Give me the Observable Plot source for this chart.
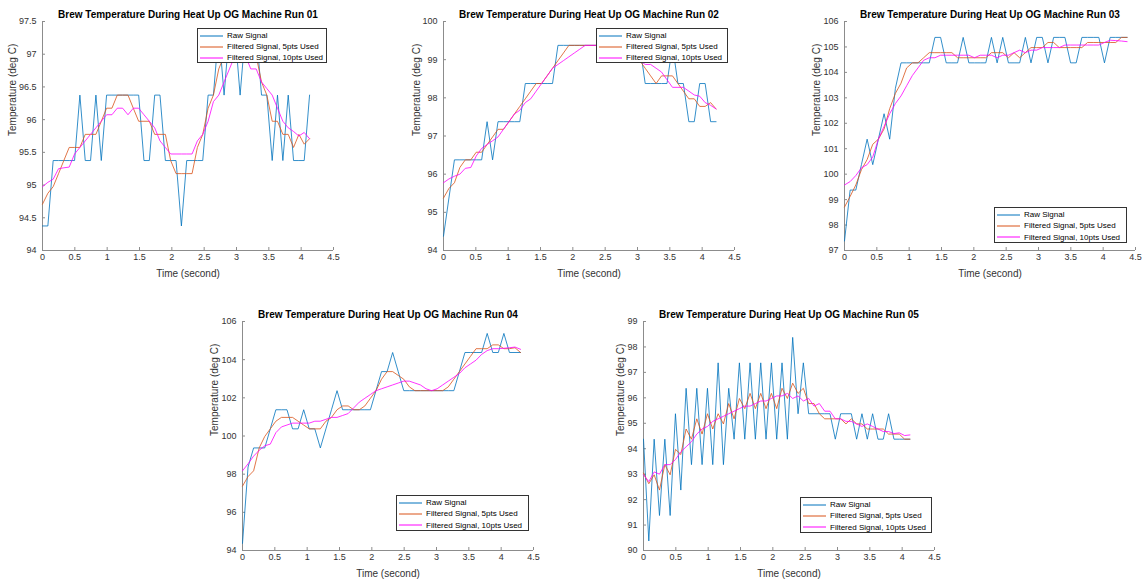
<!DOCTYPE html>
<html><head><meta charset="utf-8">
<script src="https://cdn.jsdelivr.net/npm/d3@7"></script>
<script src="https://cdn.jsdelivr.net/npm/@observablehq/plot@0.6"></script>
<style>
html,body{margin:0;padding:0;background:#fff;overflow:hidden;}
#root{position:relative;width:1146px;height:579px;font-family:"Liberation Sans",Arial,Helvetica,sans-serif;}
.panel{position:absolute;}
.legend{position:absolute;background:#fff;border:1px solid #333;box-sizing:border-box;font-size:8px;color:#000;}
.legend .row{position:absolute;left:0;height:11px;display:flex;align-items:center;white-space:nowrap;}
.legend .row svg{margin-left:2px;margin-right:4px;}
</style></head><body><div id="root"></div>
<script>
const titles = ["Brew Temperature During Heat Up OG Machine Run 01","Brew Temperature During Heat Up OG Machine Run 02","Brew Temperature During Heat Up OG Machine Run 03","Brew Temperature During Heat Up OG Machine Run 04","Brew Temperature During Heat Up OG Machine Run 05"];
const seriesNames = ["Raw Signal","Filtered Signal, 5pts Used","Filtered Signal, 10pts Used"];
const xLabel = "Time (second)";
const yLabel = "Temperature (deg C)";
const xTicks = [0,0.5,1,1.5,2,2.5,3,3.5,4,4.5];
const yTicks01 = [94,94.5,95,95.5,96,96.5,97,97.5];
const yTicks02 = [94,95,96,97,98,99,100];
const yTicks03 = [97,98,99,100,101,102,103,104,105,106];
const yTicks04 = [94,96,98,100,102,104,106];
const yTicks05 = [90,91,92,93,94,95,96,97,98,99];

const time01 = [0,0.083,0.165,0.248,0.330,0.413,0.496,0.578,0.661,0.743,0.826,0.909,0.991,1.074,1.156,1.239,1.322,1.404,1.487,1.569,1.652,1.735,1.817,1.900,1.982,2.065,2.148,2.230,2.313,2.395,2.478,2.561,2.643,2.726,2.808,2.891,2.974,3.056,3.139,3.221,3.304,3.387,3.469,3.552,3.634,3.717,3.800,3.882,3.965,4.047,4.130];
const time02 = [0,0.084,0.169,0.253,0.337,0.422,0.506,0.590,0.674,0.759,0.843,0.927,1.012,1.096,1.180,1.265,1.349,1.433,1.517,1.602,1.686,1.770,1.855,1.939,2.023,2.108,2.192,2.276,2.360,2.445,2.529,2.613,2.698,2.782,2.866,2.951,3.035,3.119,3.203,3.288,3.372,3.456,3.541,3.625,3.709,3.794,3.878,3.962,4.046,4.131,4.215];
const time03 = [0,0.087,0.175,0.262,0.350,0.437,0.524,0.612,0.699,0.787,0.874,0.961,1.049,1.136,1.224,1.311,1.398,1.486,1.573,1.661,1.748,1.835,1.923,2.010,2.098,2.185,2.272,2.360,2.447,2.535,2.622,2.709,2.797,2.884,2.972,3.059,3.146,3.234,3.321,3.409,3.496,3.583,3.671,3.758,3.846,3.933,4.020,4.108,4.195,4.283,4.370];
const time04 = [0,0.086,0.172,0.258,0.344,0.430,0.516,0.602,0.688,0.774,0.860,0.946,1.032,1.118,1.204,1.290,1.376,1.462,1.548,1.634,1.720,1.806,1.892,1.978,2.064,2.150,2.236,2.322,2.408,2.494,2.580,2.666,2.752,2.838,2.924,3.010,3.096,3.182,3.268,3.354,3.440,3.526,3.612,3.698,3.784,3.870,3.956,4.042,4.128,4.214,4.300];
const time05 = [0,0.082,0.165,0.247,0.330,0.412,0.494,0.577,0.659,0.742,0.824,0.906,0.989,1.071,1.154,1.236,1.318,1.401,1.483,1.566,1.648,1.730,1.813,1.895,1.978,2.060,2.142,2.225,2.307,2.390,2.472,2.554,2.637,2.719,2.802,2.884,2.966,3.049,3.131,3.214,3.296,3.378,3.461,3.543,3.626,3.708,3.790,3.873,3.955,4.038,4.120];

const raw01 = [94.375,94.375,95.375,95.375,95.375,95.375,95.375,96.375,95.375,95.375,96.375,95.375,96.375,96.375,96.375,96.375,96.375,96.375,96.375,95.375,95.375,96.375,96.375,95.375,95.375,95.375,94.375,95.375,95.375,95.375,95.375,96.375,96.375,97.375,96.375,97.375,97.375,96.375,97.375,97.375,97.375,96.375,96.375,95.375,96.375,95.375,96.375,95.375,95.375,95.375,96.375];
const f5_01 = [94.708,94.875,94.975,95.175,95.375,95.575,95.575,95.575,95.775,95.775,95.775,95.975,96.175,96.175,96.375,96.375,96.375,96.175,95.975,95.975,95.975,95.775,95.775,95.775,95.375,95.175,95.175,95.175,95.175,95.575,95.775,96.175,96.375,96.775,96.975,96.975,96.975,97.175,97.175,96.975,96.975,96.575,96.375,95.975,95.975,95.775,95.775,95.575,95.775,95.625,95.708];
const f10_01 = [94.975,95.042,95.089,95.25,95.264,95.275,95.475,95.575,95.675,95.775,95.875,95.975,96.075,96.075,96.175,96.175,96.075,96.175,96.175,96.075,95.975,95.875,95.675,95.575,95.475,95.475,95.475,95.475,95.475,95.675,95.775,95.975,96.275,96.375,96.575,96.775,96.975,96.975,96.975,96.775,96.775,96.575,96.475,96.375,96.175,95.975,95.875,95.819,95.75,95.804,95.708];

const raw02 = [94.375,95.375,96.375,96.375,96.375,96.375,96.375,96.375,97.375,96.375,97.375,97.375,97.375,97.375,97.375,98.375,98.375,98.375,98.375,98.375,98.375,99.375,99.375,99.375,99.375,99.375,99.375,99.375,99.375,99.375,99.375,99.375,99.375,99.375,99.375,99.375,99.375,98.375,98.375,98.375,98.375,98.375,99.375,98.375,98.375,97.375,97.375,98.375,98.375,97.375,97.375];
const f5_02 = [95.375,95.625,95.775,96.175,96.375,96.375,96.575,96.575,96.775,96.975,97.175,97.175,97.375,97.575,97.775,97.975,98.175,98.375,98.375,98.575,98.775,98.975,99.175,99.375,99.375,99.375,99.375,99.375,99.375,99.375,99.375,99.375,99.375,99.375,99.375,99.175,98.975,98.775,98.575,98.375,98.575,98.575,98.575,98.375,98.175,97.975,97.975,97.775,97.775,97.875,97.708];
const f10_02 = [95.775,95.875,95.946,96.0,96.153,96.175,96.475,96.675,96.775,96.875,96.975,97.175,97.375,97.575,97.675,97.875,97.975,98.175,98.375,98.575,98.775,98.875,98.975,99.075,99.175,99.275,99.375,99.375,99.375,99.375,99.375,99.375,99.375,99.275,99.175,99.075,98.975,98.875,98.875,98.775,98.675,98.475,98.275,98.275,98.275,98.175,98.075,98.042,97.875,97.804,97.708];

const raw03 = [97.375,99.375,99.375,100.375,101.375,100.375,101.375,102.375,101.375,103.375,104.375,104.375,104.375,104.375,104.375,104.375,105.375,105.375,104.375,104.375,104.375,105.375,104.375,104.375,104.375,104.375,105.375,104.375,105.375,104.375,104.375,104.375,105.375,104.375,105.375,105.375,104.375,105.375,105.375,105.375,104.375,104.375,105.375,105.375,105.375,105.375,104.375,105.375,105.375,105.375,105.375];
const f5_03 = [98.708,99.125,99.575,100.175,100.575,101.175,101.375,101.775,102.575,103.175,103.575,104.175,104.375,104.375,104.575,104.775,104.775,104.775,104.775,104.775,104.575,104.575,104.575,104.575,104.575,104.575,104.775,104.775,104.775,104.575,104.775,104.575,104.775,104.975,104.975,104.975,105.175,105.175,104.975,104.975,104.975,104.975,104.975,105.175,105.175,105.175,105.175,105.175,105.175,105.375,105.375];
const f10_03 = [99.575,99.708,99.946,100.25,100.375,100.675,101.375,101.875,102.375,102.775,103.075,103.475,103.875,104.175,104.475,104.575,104.575,104.675,104.675,104.675,104.675,104.675,104.675,104.575,104.675,104.675,104.675,104.575,104.675,104.675,104.775,104.875,104.775,104.875,104.875,104.975,104.975,104.975,104.975,105.075,105.075,105.075,105.075,105.075,105.075,105.075,105.175,105.264,105.25,105.232,105.208];

const raw04 = [94.375,98.375,99.375,99.375,99.375,100.375,101.375,101.375,101.375,100.375,100.375,101.375,100.375,100.375,99.375,100.375,101.375,102.375,101.375,101.375,101.375,101.375,101.375,101.375,102.375,103.375,103.375,104.375,103.375,102.375,102.375,102.375,102.375,102.375,102.375,102.375,102.375,102.375,102.375,103.375,104.375,104.375,104.375,104.375,105.375,104.375,104.375,105.375,104.375,104.375,104.375];
const f5_04 = [97.375,97.875,98.175,99.375,99.975,100.375,100.775,100.975,100.975,100.975,100.775,100.575,100.375,100.375,100.375,100.775,100.975,101.375,101.575,101.575,101.375,101.375,101.575,101.975,102.375,102.975,103.375,103.375,103.175,102.975,102.575,102.375,102.375,102.375,102.375,102.375,102.375,102.575,102.975,103.375,103.775,104.175,104.575,104.575,104.575,104.775,104.775,104.575,104.575,104.625,104.375];
const f10_04 = [98.175,98.542,98.946,99.25,99.486,99.575,100.175,100.475,100.575,100.675,100.675,100.675,100.675,100.775,100.775,100.875,100.975,100.975,101.075,101.175,101.475,101.775,101.975,102.175,102.375,102.475,102.575,102.675,102.775,102.875,102.875,102.775,102.675,102.475,102.375,102.475,102.675,102.875,103.075,103.275,103.575,103.775,103.975,104.275,104.475,104.575,104.575,104.597,104.625,104.661,104.542];

const raw05 = [94.375,90.375,94.375,91.375,94.375,91.375,95.375,92.375,96.375,93.375,96.375,93.375,96.375,93.375,97.375,93.375,96.375,94.375,97.375,94.375,97.375,94.375,97.375,94.375,97.375,94.375,97.375,94.375,98.375,95.375,97.375,95.375,95.375,95.375,95.375,95.375,94.375,95.375,95.375,95.375,94.375,95.375,94.375,95.375,94.375,94.375,95.375,94.375,94.375,94.375,94.375];
const f5_05 = [93.042,92.625,92.975,92.375,93.375,92.975,93.975,93.775,94.775,94.375,95.175,94.575,95.375,94.775,95.375,94.975,95.775,95.175,95.975,95.575,96.175,95.575,96.175,95.575,96.175,95.575,96.375,95.975,96.575,96.175,96.375,95.775,95.775,95.375,95.175,95.175,95.175,95.175,94.975,95.175,94.975,94.975,94.775,94.775,94.775,94.775,94.575,94.575,94.575,94.375,94.375];
const f10_05 = [92.975,92.708,93.089,93.0,93.375,93.375,93.575,93.875,94.075,94.275,94.575,94.775,94.875,95.075,95.175,95.275,95.375,95.475,95.575,95.675,95.675,95.775,95.875,95.875,95.975,96.075,96.075,96.175,95.975,96.075,95.875,95.975,95.675,95.775,95.475,95.475,95.175,95.175,95.075,95.075,94.975,94.875,94.975,94.875,94.775,94.675,94.675,94.597,94.625,94.518,94.542];

const panels = [
  {t: time01, raw: raw01, f5: f5_01, f10: f10_01, yd:[94,97.5], yt: yTicks01, left:42, top:21, lx:29.5, leg:{x:197,y:28,w:130,h:35}},
  {t: time02, raw: raw02, f5: f5_02, f10: f10_02, yd:[94,100], yt: yTicks02, left:443, top:21, lx:27, leg:{x:596,y:28,w:132,h:35}},
  {t: time03, raw: raw03, f5: f5_03, f10: f10_03, yd:[97,106], yt: yTicks03, left:844, top:21, lx:27.5, leg:{x:994,y:207,w:133,h:36}},
  {t: time04, raw: raw04, f5: f5_04, f10: f10_04, yd:[94,106], yt: yTicks04, left:242, top:321, lx:27.5, leg:{x:396,y:495,w:133,h:36}},
  {t: time05, raw: raw05, f5: f5_05, f10: f10_05, yd:[90,99], yt: yTicks05, left:643, top:321, lx:22.5, leg:{x:800,y:497,w:132,h:36}}
];
const colors = ["#0072BD","#D95319","#FF00FF"];
const root = document.getElementById("root");
const ML=42, MT=21, MR=10, MB=30, AW=291, AH=229;

panels.forEach((p, k) => {
  const rows = [];
  [p.raw, p.f5, p.f10].forEach((arr, s) => arr.forEach((v, i) => rows.push({t: p.t[i], v, s: seriesNames[s]})));
  const chart = Plot.plot({
    width: ML+AW+MR, height: MT+AH+MB,
    marginLeft: ML, marginTop: MT, marginRight: MR, marginBottom: MB,
    style: {fontFamily: '"Liberation Sans",Arial,sans-serif', fontSize: "9px", color: "#333", background: "transparent", overflow: "visible"},
    x: {domain: [0, 4.5]},
    y: {domain: p.yd},
    color: {domain: seriesNames, range: colors},
    marks: [
      Plot.ruleX([0], {stroke: "#8c8c8c"}),
      Plot.ruleY([p.yd[0]], {stroke: "#8c8c8c"}),
      Plot.axisX(xTicks, {tickSize: -3, tickPadding: 6, tickFormat: d => String(d), label: null, stroke: "#8c8c8c"}),
      Plot.axisY(p.yt, {tickSize: -3, tickPadding: 9, tickFormat: d => String(d), label: null, stroke: "#8c8c8c"}),
      Plot.line(rows, {x: "t", y: "v", z: "s", stroke: "s", strokeWidth: 0.8}),
      Plot.text([titles[k]], {frameAnchor: "top", dy: -7, fontWeight: "bold", fontSize: 10, fill: "#000", lineAnchor: "middle"}),
      Plot.text([yLabel], {frameAnchor: "left", dx: -p.lx, rotate: -90, fontSize: 10, fill: "#333", lineAnchor: "middle"}),
      Plot.text([xLabel], {frameAnchor: "bottom", dy: 23, fontSize: 10, fill: "#333", lineAnchor: "middle"})
    ]
  });
  const wrap = document.createElement("div");
  wrap.className = "panel";
  wrap.style.left = (p.left - ML) + "px";
  wrap.style.top = (p.top - MT) + "px";
  wrap.appendChild(chart);
  root.appendChild(wrap);

  const lg = document.createElement("div");
  lg.className = "legend";
  Object.assign(lg.style, {left: p.leg.x+"px", top: p.leg.y+"px", width: p.leg.w+"px", height: p.leg.h+"px"});
  seriesNames.forEach((name, s) => {
    const r = document.createElement("div");
    r.className = "row";
    r.style.top = (1 + s * (p.leg.h - 2) / 3) + "px";
    r.style.height = ((p.leg.h - 2) / 3) + "px";
    r.innerHTML = `<svg width="23" height="4"><line x1="0" x2="23" y1="2" y2="2" stroke="${colors[s]}" stroke-width="1"/></svg><span>${name}</span>`;
    lg.appendChild(r);
  });
  root.appendChild(lg);
});
</script></body></html>
